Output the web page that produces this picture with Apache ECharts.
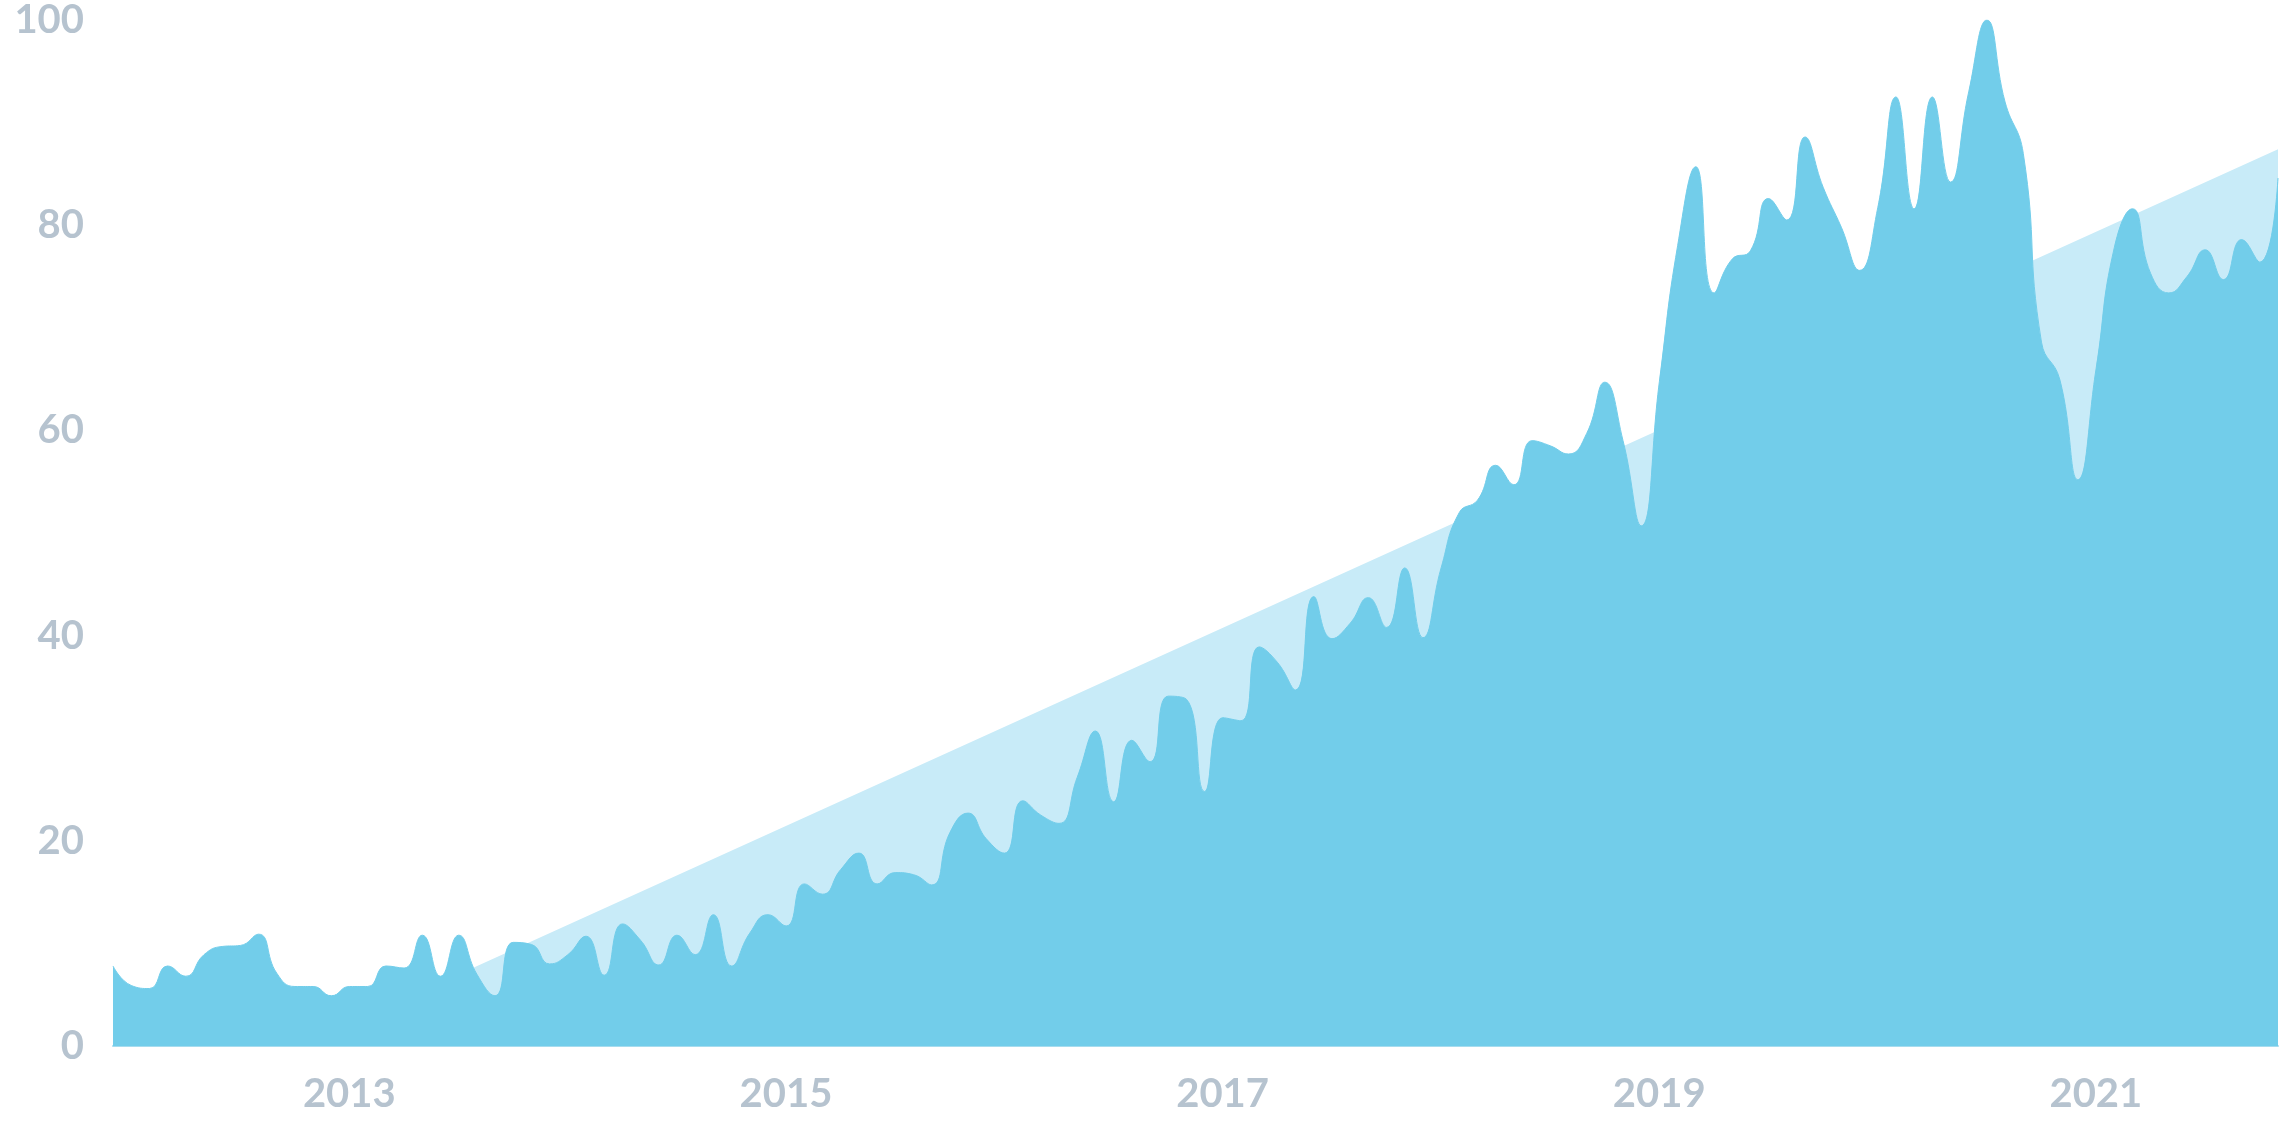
<!DOCTYPE html>
<html>
<head>
<meta charset="utf-8">
<script src="https://cdn.jsdelivr.net/npm/echarts@6/dist/echarts.min.js"></script>
<style>
html,body{margin:0;padding:0;background:#ffffff;}
#chart{width:2282px;height:1140px;}
</style>
</head>
<body>
<div id="chart"></div>
<script>
// Monthly values, Jan 2012 – Dec 2021
const startYear = 2012;
const endYear = 2021;
const interest = [
  7.8, 5.9, 5.6, 7.8, 6.8, 8.9, 9.7, 9.8, 10.9, 7.1, 5.8, 5.8,
  4.9, 5.8, 5.8, 7.8, 7.6, 10.8, 6.8, 10.8, 7.0, 4.9, 10.1, 9.9,
  8.0, 8.9, 10.7, 6.9, 11.9, 10.3, 7.9, 10.8, 8.9, 12.8, 7.8, 11.0,
  12.8, 11.7, 15.8, 14.8, 17.2, 18.8, 15.8, 16.9, 16.7, 15.7, 20.8, 22.7,
  20.2, 18.8, 23.9, 22.5, 21.7, 26.2, 30.7, 23.8, 29.8, 27.7, 34.1, 33.8,
  24.8, 32.0, 31.7, 38.9, 37.4, 34.7, 43.8, 39.7, 41.2, 43.7, 40.8, 46.6,
  39.8, 46.6, 52.0, 53.2, 56.6, 54.7, 59.0, 58.5, 57.7, 59.7, 64.7, 59.0,
  50.7, 64.8, 78.0, 85.7, 73.4, 76.7, 77.5, 82.6, 80.5, 88.6, 83.7, 79.8,
  75.6, 81.7, 92.5, 81.6, 92.5, 84.2, 93.0, 100, 92.0, 87.0, 68.6, 65.0,
  55.2, 66.0, 77.8, 81.6, 75.3, 73.4, 75.0, 77.6, 74.7, 78.6, 76.4, 84.6
];
// Linear trend: value at first month and at last month
const trendStart = -8.3;
const trendEnd = 87.4;
// Tick labels
const yearLabels = ['2013', '2015', '2017', '2019', '2021'];
const yTicks = [0, 20, 40, 60, 80, 100];

const months = [];
for (let y = startYear; y <= endYear; y++) {
  for (let m = 1; m <= 12; m++) months.push(y + '-' + String(m).padStart(2, '0'));
}

const labelStyle = {
  color: '#b6c3cf',
  fontFamily: 'Lato',
  fontWeight: 'bold',
  fontSize: 40
};

const chart = echarts.init(document.getElementById('chart'), null, {renderer: 'canvas'});
chart.setOption({
  animation: false,
  backgroundColor: '#ffffff',
  grid: {left: 113, right: 4, top: 19, bottom: 94, containLabel: false},
  xAxis: {
    type: 'category',
    data: months,
    boundaryGap: false,
    axisLine: {show: true, lineStyle: {color: '#a6dcef', width: 2}},
    axisTick: {show: false},
    splitLine: {show: false},
    axisLabel: Object.assign({}, labelStyle, {
      margin: 28,
      padding: [0, 0, 0, 36],
      interval: function (index, value) {
        return value.endsWith('-01') && yearLabels.indexOf(value.slice(0, 4)) >= 0;
      },
      formatter: function (value) { return value.slice(0, 4); }
    })
  },
  yAxis: {
    type: 'value',
    min: yTicks[0],
    max: yTicks[yTicks.length - 1],
    interval: yTicks[1] - yTicks[0],
    axisLine: {show: false},
    axisTick: {show: false},
    splitLine: {show: false},
    axisLabel: Object.assign({}, labelStyle, {margin: 29})
  },
  series: [
    {
      name: 'trend',
      type: 'line',
      data: [[months[0], trendStart], [months[months.length - 1], trendEnd]],
      symbol: 'none',
      lineStyle: {width: 0},
      areaStyle: {color: '#c8ebf8', opacity: 1},
      z: 1,
      silent: true
    },
    {
      name: 'interest',
      type: 'line',
      data: interest,
      smooth: 0.5,
      symbol: 'none',
      lineStyle: {width: 1, color: '#72cdea'},
      areaStyle: {color: '#72cdea', opacity: 1},
      z: 2,
      silent: true
    }
  ]
});
</script>
</body>
</html>
